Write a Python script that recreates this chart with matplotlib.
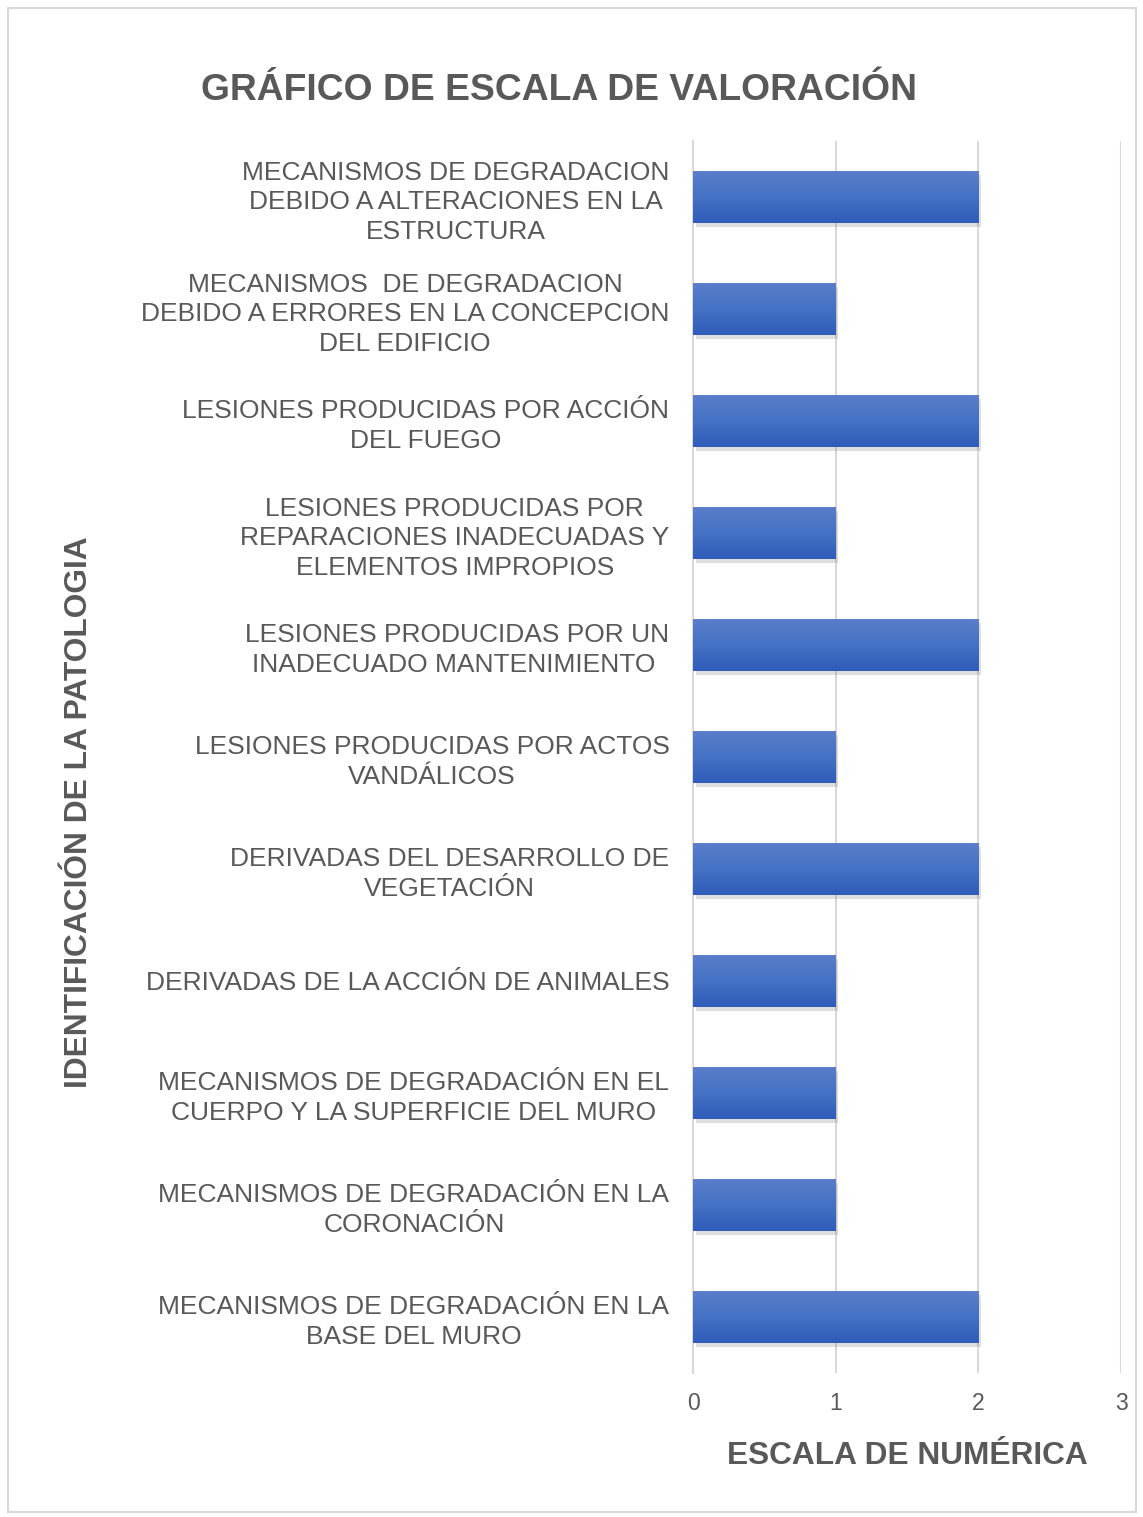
import matplotlib
matplotlib.use("Agg")
import matplotlib.pyplot as plt
import numpy as np
from matplotlib.patches import Rectangle
import matplotlib.patheffects as pe
from matplotlib.colors import LinearSegmentedColormap

plt.rcParams['font.family'] = ['Liberation Sans', 'DejaVu Sans']

categories = [
    "MECANISMOS DE DEGRADACION\nDEBIDO A ALTERACIONES EN LA\nESTRUCTURA",
    "MECANISMOS  DE DEGRADACION\nDEBIDO A ERRORES EN LA CONCEPCION\nDEL EDIFICIO",
    "LESIONES PRODUCIDAS POR ACCIÓN\nDEL FUEGO",
    "LESIONES PRODUCIDAS POR\nREPARACIONES INADECUADAS Y\nELEMENTOS IMPROPIOS",
    "LESIONES PRODUCIDAS POR UN\nINADECUADO MANTENIMIENTO ",
    "LESIONES PRODUCIDAS POR ACTOS\nVANDÁLICOS",
    "DERIVADAS DEL DESARROLLO DE\nVEGETACIÓN",
    "DERIVADAS DE LA ACCIÓN DE ANIMALES",
    "MECANISMOS DE DEGRADACIÓN EN EL\nCUERPO Y LA SUPERFICIE DEL MURO",
    "MECANISMOS DE DEGRADACIÓN EN LA\nCORONACIÓN",
    "MECANISMOS DE DEGRADACIÓN EN LA\nBASE DEL MURO",
]
values = [2, 1, 2, 1, 2, 1, 2, 1, 1, 1, 2]
xticks = [0, 1, 2, 3]

title = "GRÁFICO DE ESCALA DE VALORACIÓN"
xlabel = "ESCALA DE NUMÉRICA"
ylabel = "IDENTIFICACIÓN DE LA PATOLOGIA"

W, H = 1143, 1517
fig = plt.figure(figsize=(W / 100, H / 100), dpi=100)
fig.patches.append(Rectangle((8 / W, 1 - 1512 / H), (1136 - 8) / W, (1512 - 8) / H,
                             transform=fig.transFigure, fill=False,
                             edgecolor='#d9d9d9', linewidth=1.5))

ax = fig.add_axes([693 / W, 1 - 1373 / H, (1121 - 693) / W, (1373 - 141) / H])
y = np.arange(len(categories))
bars = ax.barh(y, values, height=0.465, color='#4472c4', zorder=3,
               path_effects=[pe.SimplePatchShadow(offset=(2, -3), shadow_rgbFace='#808080', alpha=0.25),
                             pe.Normal()])

# gradient overlay
grad = np.linspace(0, 1, 100).reshape(-1, 1)
cmap = LinearSegmentedColormap.from_list('g', ['#5a7ecb', '#4472c4', '#2f5cb8'])
for b in bars:
    x0, y0 = b.get_x(), b.get_y()
    w, h = b.get_width(), b.get_height()
    im = ax.imshow(grad, extent=(x0, x0 + w, y0 + h, y0), aspect='auto', cmap=cmap,
                   zorder=4, origin='upper')
    im.set_clip_path(b)

ax.set_xlim(0, 3)
ax.set_ylim(len(categories) - 0.5, -0.5)
ax.set_xticks(xticks)
ax.set_xticklabels([str(t) for t in xticks], fontsize=16.5, color='#595959')
ax.set_yticks(y)
ax.set_yticklabels(categories, fontsize=19, color='#595959', multialignment='center',
                   linespacing=1.31)
ax.tick_params(axis='both', length=0)
ax.tick_params(axis='y', pad=17)
ax.tick_params(axis='x', pad=14)
ax.grid(axis='x', color='#d9d9d9', linewidth=1.5, zorder=0)
for s in ['top', 'right', 'bottom']:
    ax.spines[s].set_visible(False)
ax.spines['left'].set_color('#d9d9d9')
ax.spines['left'].set_linewidth(1.5)

fig.text(559 / W, 1 - 90 / H, title, fontsize=26.8, fontweight='bold', color='#595959',
         ha='center', va='center')
fig.text(907 / W, 1 - 1456 / H, xlabel, fontsize=22.8, fontweight='bold', color='#595959',
         ha='center', va='center')
fig.text(79 / W, 1 - 812 / H, ylabel, fontsize=22.9, fontweight='bold', color='#595959',
         ha='center', va='center', rotation=90)

fig.savefig('out.png', dpi=100)
